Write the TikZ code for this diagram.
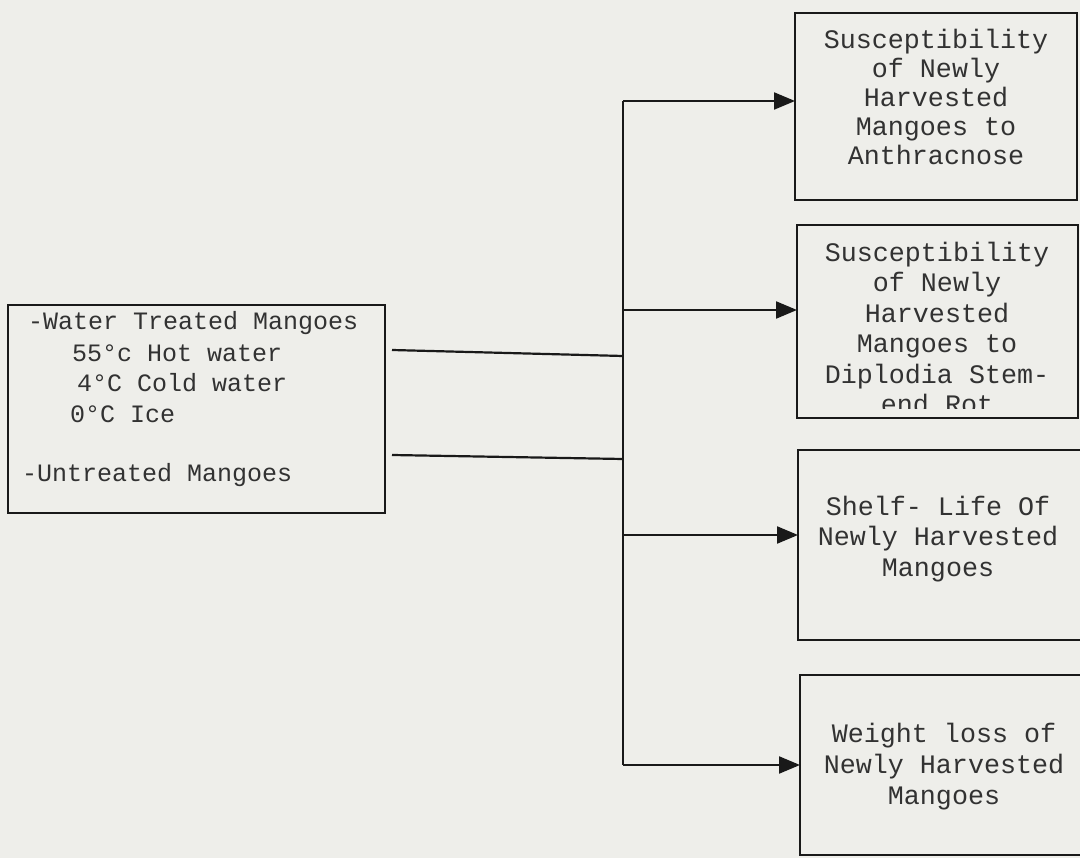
\documentclass[tikz,border=0pt]{standalone}
\usepackage{fontspec}
\setmonofont{Liberation Mono}
\usetikzlibrary{arrows.meta}
\definecolor{paper}{RGB}{238,238,234}
\definecolor{ink}{RGB}{25,25,25}
\definecolor{txt}{RGB}{50,50,50}
\begin{document}
\begin{tikzpicture}[x=1pt,y=-1pt,
  box/.style={draw=ink,line width=2.2pt,inner sep=0pt,outer sep=0pt},
  rtext/.style={text=txt,align=center,inner sep=0pt,font=\ttfamily\fontsize{26.7}{29}\selectfont},
  ltext/.style={text=txt,anchor=base west,inner sep=0pt,font=\ttfamily\fontsize{25}{29}\selectfont},
  conn/.style={draw=ink,line width=2.2pt},
  arr/.style={conn,-{Triangle[length=21pt,width=17pt]}}]
\useasboundingbox (0,0) rectangle (1080,858);
\clip (0,0) rectangle (1080,858);
\fill[paper] (0,0) rectangle (1080,858);

% left box
\node[box,minimum width=377pt,minimum height=208pt] (src) at (196.5,409) {};
\node[ltext] (l1) at (28,330) {-Water Treated Mangoes};
\node[ltext] (l2) at (72,362) {55°c Hot water};
\node[ltext] (l3) at (77,392) {4°C Cold water};
\node[ltext] (l4) at (70,423) {0°C Ice};
\node[ltext] (l5) at (22,482) {-Untreated Mangoes};

% right boxes
\node[box,minimum width=282pt,minimum height=187pt] (b1) at (936,106.5) {};
\node[rtext] (t1) at (936,97) {Susceptibility\\of Newly\\Harvested\\Mangoes to\\Anthracnose};

\begin{scope}
\clip (797,225) rectangle (1078,409);
\node[rtext,font=\ttfamily\fontsize{26.7}{30.4}\selectfont] (t2) at (937,328) {Susceptibility\\of Newly\\Harvested\\Mangoes to\\Diplodia Stem-\\end Rot};
\end{scope}
\node[box,minimum width=281pt,minimum height=193pt] (b2) at (937.5,321.5) {};

\node[box,minimum width=286pt,minimum height=190pt] (b3) at (941,545) {};
\node[rtext,font=\ttfamily\fontsize{26.7}{30.5}\selectfont] (t3) at (938,539) {Shelf- Life Of\\Newly Harvested\\Mangoes};

\node[box,minimum width=286pt,minimum height=180pt] (b4) at (943,765) {};
\node[rtext,font=\ttfamily\fontsize{26.7}{31}\selectfont] (t4) at (944,767) {Weight loss of\\Newly Harvested\\Mangoes};

% connectors
\coordinate (s1) at (392,350);
\coordinate (m1) at (623,356);
\coordinate (s2) at (392,455);
\coordinate (m2) at (623,459);
\coordinate (j1) at (623,101);
\coordinate (j2) at (623,310);
\coordinate (j3) at (623,535);
\coordinate (j4) at (623,765);

\draw[conn] (s1) -- (m1);
\draw[conn] (s2) -- (m2);
\draw[conn] (j1) -- (j4);
\draw[arr] (j1) -- (j1 -| b1.west);
\draw[arr] (j2) -- (j2 -| b2.west);
\draw[arr] (j3) -- (j3 -| b3.west);
\draw[arr] (j4) -- (j4 -| b4.west);
\end{tikzpicture}
\end{document}
